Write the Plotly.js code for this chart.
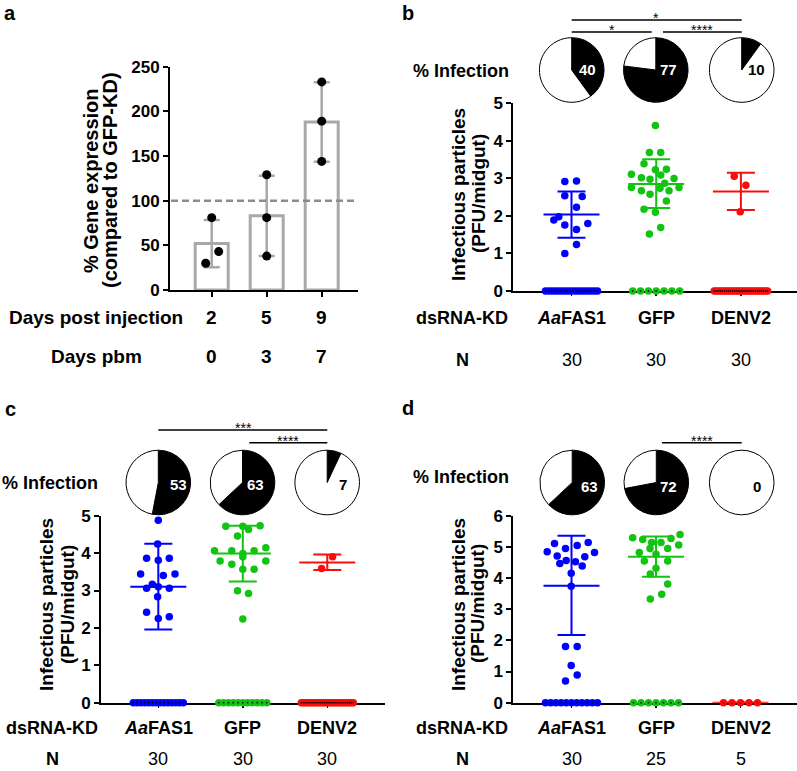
<!DOCTYPE html>
<html><head><meta charset="utf-8">
<script src="https://cdn.plot.ly/plotly-3.0.1.min.js"></script>
<style>html,body{margin:0;padding:0;background:#fff}</style>
</head><body><div id="chart" style="width:797px;height:771px"></div>
<script>
// ================= DATA =================
// Panel a
const aDays = ['2', '5', '9'];
const aPbm = ['0', '3', '7'];
const aMeans = [52, 83, 188];
const aSD = [26.5, 45, 44.5];
const aPts2 = [81, 43, 30];
const aPts5 = [129, 81, 38];
const aPts9 = [233, 189, 144];
const aReference = 100;

// Panels b-d categories
const kdCategories = ['<i>Aa</i>FAS1', 'GFP', 'DENV2'];

// Panel b values
const bFAS = [2.92, 2.93, 2.54, 2.52, 2.23, 1.89, 1.98, 1.76, 1.80, 1.64, 1.24, 1.00,
  0, 0, 0, 0, 0, 0, 0, 0, 0, 0, 0, 0, 0, 0, 0, 0, 0, 0];
const bGFP = [4.41, 3.69, 3.69, 3.39, 3.23, 3.24, 3.11, 3.09, 3.02, 2.98, 3.00, 2.87,
  2.76, 2.67, 2.58, 2.74, 2.67, 2.76, 2.40, 2.18, 2.10, 1.69, 1.52,
  0, 0, 0, 0, 0, 0, 0];
const bDENV = [3.06, 2.82, 2.11,
  0, 0, 0, 0, 0, 0, 0, 0, 0, 0, 0, 0, 0, 0, 0, 0, 0, 0, 0, 0, 0, 0, 0, 0, 0, 0, 0];
const bMean = [2.04, 2.85, 2.65];
const bLow = [1.42, 2.21, 2.16];
const bHigh = [2.65, 3.51, 3.15];
const bInfection = [40, 77, 10];
const bN = ['30', '30', '30'];

// Panel c
const cFAS = [4.88, 4.24, 3.86, 3.81, 3.86, 3.44, 3.40, 3.44, 3.17, 3.06, 3.06, 3.10, 2.83, 2.42, 2.25, 2.30,
  0, 0, 0, 0, 0, 0, 0, 0, 0, 0, 0, 0, 0, 0];
const cGFP = [4.72, 4.73, 4.63, 4.46, 4.06, 4.06, 4.06, 4.14, 3.90, 3.79, 3.70, 3.79, 3.57, 3.57, 2.99, 2.92, 2.24, 4.72, 3.99,
  0, 0, 0, 0, 0, 0, 0, 0, 0, 0, 0];
const cDENV = [3.90, 3.59,
  0, 0, 0, 0, 0, 0, 0, 0, 0, 0, 0, 0, 0, 0, 0, 0, 0, 0, 0, 0, 0, 0, 0, 0, 0, 0, 0, 0];
const cMean = [3.10, 3.99, 3.75];
const cLow = [1.96, 3.24, 3.55];
const cHigh = [4.25, 4.73, 3.96];
const cInfection = [53, 63, 7];
const cN = ['30', '30', '30'];

// Panel d
const dFAS = [5.11, 5.14, 4.95, 5.04, 4.84, 4.82, 4.71, 4.68, 4.56, 4.52, 4.47, 4.39, 4.15, 3.74, 1.80, 1.80, 1.19, 0.89, 0.70,
  0, 0, 0, 0, 0, 0, 0, 0, 0, 0, 0];
const dGFP = [5.29, 5.24, 5.40, 5.27, 5.14, 5.14, 5.06, 4.82, 4.95, 4.95, 4.76, 4.55, 4.55, 4.31, 4.13, 3.81, 3.48, 3.33,
  0, 0, 0, 0, 0, 0, 0];
const dDENV = [0, 0, 0, 0, 0];
const dMean = [3.75, 4.68, 0];
const dLow = [2.17, 4.04, 0];
const dHigh = [5.36, 5.33, 0];
const dInfection = [63, 72, 0];
const dN = ['30', '25', '5'];

// ================= POSITIONS (jitter of non-zero points, px) =================
const aJit = [[0, 7, -6], [0, 0, 0], [0, 0, 0]];
const bJit = [
  [-6.7, 5, -6.7, 10.7, 5, -17.7, -12.7, -6.7, 16.3, 5, 5, -6.7],
  [-0.8, -6.8, 4.5, -12.2, -0.8, 10.2, -24.8, 4.5, -14.8, -6.2, 17.8, 8.5, -24.8, -14.8, -6.2, 3.8, 12.8, 22.8, 10.2, -12.2, -0.8, 4.5, -6.8],
  [-6.7, 5, -0.7]];
const cJit = [
  [0, -0.7, -11.7, 0, 11, -17.7, 5, 16.7, -6, -11.7, 11, 0, -0.7, -11.7, 0, 11],
  [-17, 17.3, 5.7, -5.3, -28.3, -11, 11.3, 23, 0, -22.7, -11, 23, 0, 11.3, -5.3, 5.7, 0, 0, 0],
  [5.3, -5.7]];
const dJit = [
  [-17, 16.7, -6, 5.7, -24.3, 23, -14.3, 13.3, -5.3, 4, -11.7, 10.7, -0.3, -0.3, -6, 5.7, -0.3, 5.7, -6],
  [-23.3, -13.3, 24, 15, -4.3, 5, 22.7, -16.7, -6, 11.7, 0, -11.7, 11.7, 0, -5.7, 11.7, 5.7, -5.7],
  []];

// ================= BUILD =================
const W = 797, H = 771;
const px = x => x / W;
const py = y => 1 - y / H;
const FONT = 'Liberation Sans, Arial, Helvetica, sans-serif';
const COLORS = ['rgb(0,0,255)', 'rgb(18,196,18)', 'rgb(250,12,12)'];
const traces = [];
const annotations = [];
const shapes = [];

function ann(text, x, y, size, opts) {
  annotations.push(Object.assign({
    text: text, x: px(x), y: py(y), xref: 'paper', yref: 'paper', showarrow: false,
    xanchor: 'center', yanchor: 'middle',
    font: {family: FONT, size: size, color: 'black'}
  }, opts || {}));
}

// ---- Panel a ----
traces.push({
  type: 'bar', x: [0, 1, 2], y: aMeans, width: 0.6, xaxis: 'x', yaxis: 'y',
  marker: {color: 'white', line: {color: '#a8a8a8', width: 3}},
  error_y: {type: 'data', array: aSD, visible: true, color: '#a8a8a8', thickness: 2.5, width: 8},
  hoverinfo: 'skip'
});
[aPts2, aPts5, aPts9].forEach((pts, i) => {
  traces.push({
    type: 'scatter', mode: 'markers', xaxis: 'x', yaxis: 'y', cliponaxis: false,
    x: pts.map((v, k) => i + aJit[i][k] / 55), y: pts,
    marker: {color: 'black', size: 9}, hoverinfo: 'skip'
  });
});
shapes.push({type: 'line', xref: 'paper', yref: 'y', x0: px(171), x1: px(357), y0: aReference, y1: aReference,
  line: {color: '#8c8c8c', width: 2.5, dash: '7px,4px'}});
aDays.forEach((t, i) => ann('<b>' + t + '</b>', 211.7 + 55 * i, 317, 19));
aPbm.forEach((t, i) => ann('<b>' + t + '</b>', 211.7 + 55 * i, 356, 19));
ann('<b>Days post injection</b>', 96, 317, 19);
ann('<b>Days pbm</b>', 96, 356, 19);
ann('<b>% Gene expression</b>', 91, 181, 20, {textangle: -90});
ann('<b>(compared to GFP-KD)</b>', 110, 180, 20, {textangle: -90});

// ---- Panels b, c, d ----
const panels = [
  {xa: 'x2', ya: 'y2', x0: 571.5, dx: 84.7, vals: [bFAS, bGFP, bDENV], jit: bJit, zHalf: [26, 23.5, 26.7],
   mean: bMean, lo: bLow, hi: bHigh, inf: bInfection, N: bN,
   pies: [[571.7, 70], [655.8, 70], [741.7, 70]], pieOff: [16, 12.6, 15], pieTextY: 69,
   infX: 461, infY: 71, titleX: [458, 478], titleY: 194, rowY: [318, 360], rowX: 462},
  {xa: 'x3', ya: 'y3', x0: 158.3, dx: 84.5, vals: [cFAS, cGFP, cDENV], jit: cJit, zHalf: [25, 24, 26],
   mean: cMean, lo: cLow, hi: cHigh, inf: cInfection, N: cN,
   pies: [[158.3, 482.5], [242.5, 482.5], [327.2, 482.5]], pieOff: [20, 12.5, 15.5], pieTextY: 484,
   infX: 50, infY: 483, titleX: [46, 67], titleY: 605, rowY: [728, 759], rowX: 52},
  {xa: 'x4', ya: 'y4', x0: 571.5, dx: 84.5, vals: [dFAS, dGFP, dDENV], jit: dJit, zHalf: [26, 22.5, 17],
   mean: dMean, lo: dLow, hi: dHigh, inf: dInfection, N: dN,
   pies: [[572.2, 482.5], [656.3, 482.5], [741.7, 482.5]], pieOff: [17.3, 12.6, 15], pieTextY: 486,
   infX: 461, infY: 477, titleX: [458, 477], titleY: 604, rowY: [728, 759], rowX: 462}
];

panels.forEach(p => {
  p.vals.forEach((vals, i) => {
    const col = COLORS[i];
    const nz = vals.filter(v => v > 0);
    const nZero = vals.length - nz.length;
    const zx = [];
    for (let k = 0; k < nZero; k++) {
      const off = nZero > 1 ? -p.zHalf[i] + 2 * p.zHalf[i] * k / (nZero - 1) : 0;
      zx.push(i + off / p.dx);
    }
    traces.push({type: 'scatter', mode: 'markers', xaxis: p.xa, yaxis: p.ya, cliponaxis: false,
      x: nz.map((v, k) => i + p.jit[i][k] / p.dx), y: nz,
      marker: {color: col, size: 7.5}, hoverinfo: 'skip'});
    traces.push({type: 'scatter', mode: 'markers', xaxis: p.xa, yaxis: p.ya, cliponaxis: false,
      x: zx, y: zx.map(() => 0), marker: {color: col, size: 7.5}, hoverinfo: 'skip'});
    traces.push({type: 'scatter', mode: 'markers', xaxis: p.xa, yaxis: p.ya, cliponaxis: false,
      x: zx, y: zx.map(() => 0), marker: {color: 'rgba(0,0,0,0.8)', size: 1.8}, hoverinfo: 'skip'});
    const hm = 28 / p.dx, hc = 14 / p.dx;
    const m = p.mean[i], l = p.lo[i], h = p.hi[i];
    traces.push({type: 'scatter', mode: 'lines', xaxis: p.xa, yaxis: p.ya, cliponaxis: false,
      x: [i - hm, i + hm, null, i, i, null, i - hc, i + hc, null, i - hc, i + hc],
      y: [m, m, null, l, h, null, l, l, null, h, h],
      line: {color: col, width: 2}, hoverinfo: 'skip'});
  });
  p.inf.forEach((v, i) => {
    const [cx, cy] = p.pies[i];
    const r = 32.3;
    traces.push({type: 'pie', values: [v, 100 - v], sort: false, direction: 'clockwise', rotation: 0,
      marker: {colors: ['black', 'white'], line: {color: 'black', width: 1}},
      textinfo: 'none', hoverinfo: 'skip', showlegend: false,
      domain: {x: [px(cx - r), px(cx + r)], y: [py(cy + r), py(cy - r)]}});
    ann('<b>' + v + '</b>', cx + p.pieOff[i], p.pieTextY, 15,
      {font: {family: FONT, size: 15, color: v >= 40 ? 'white' : 'black'}});
  });
  ann('<b>% Infection</b>', p.infX, p.infY, 18);
  ann('<b>Infectious particles</b>', p.titleX[0], p.titleY, 19, {textangle: -90});
  ann('<b>(PFU/midgut)</b>', p.titleX[1], p.titleY, 19, {textangle: -90});
  ann('<b>dsRNA-KD</b>', p.rowX, p.rowY[0], 18);
  ann('<b>N</b>', p.rowX, p.rowY[1], 18);
  kdCategories.forEach((t, i) => {
    ann('<b>' + t + '</b>', 0, p.rowY[0], 18, {x: i, xref: p.xa});
    ann(p.N[i], 0, p.rowY[1], 18, {x: i, xref: p.xa});
  });
});

function sig(x0, x1, y, stars, sx, sy) {
  shapes.push({type: 'line', xref: 'paper', yref: 'paper', x0: px(x0), x1: px(x1), y0: py(y), y1: py(y),
    line: {color: 'black', width: 1.5}});
  ann(stars, sx, sy, 14);
}
sig(571.7, 741.7, 20, '*', 656, 18);
sig(571.7, 651.7, 32, '*', 611.7, 30);
sig(663, 741.7, 32, '****', 702, 30);
sig(158.3, 327.3, 430, '***', 243, 428);
sig(249.3, 327.3, 442.7, '****', 288.3, 440.7);
sig(662, 741.7, 442.7, '****', 702, 440.7);

ann('<b>a</b>', 10, 13, 20);
ann('<b>b</b>', 408, 13, 20);
ann('<b>c</b>', 10, 409, 20);
ann('<b>d</b>', 408, 408, 20);

function yax(dom, range, dtick, anchor) {
  return {domain: dom, range: range, dtick: dtick, tick0: 0, anchor: anchor,
    showgrid: false, zeroline: false, showline: true, linecolor: 'black', linewidth: 2,
    ticks: 'outside', ticklen: 5, tickwidth: 2, tickcolor: 'black',
    tickfont: {family: FONT, size: 17, color: 'black', weight: 'bold'}, fixedrange: true, layer: 'below traces'};
}
function xax(dom, range, anchor, tlen, tw, layer) {
  return {domain: dom, range: range, anchor: anchor, tickvals: [0, 1, 2], showticklabels: false,
    showgrid: false, zeroline: false, showline: true, linecolor: 'black', linewidth: 2,
    ticks: 'outside', ticklen: tlen, tickwidth: tw, tickcolor: 'black', fixedrange: true, layer: layer};
}

const layout = {
  width: W, height: H, margin: {l: 0, r: 0, t: 0, b: 0}, showlegend: false,
  paper_bgcolor: 'white', plot_bgcolor: 'rgba(0,0,0,0)',
  font: {family: FONT, color: 'black'},
  xaxis: xax([px(170), px(358)], [(170 - 211.7) / 55, (358 - 211.7) / 55], 'y', 5, 2, 'above traces'),
  yaxis: yax([py(290), py(66.7)], [0, 250], 50, 'x'),
  xaxis2: xax([px(513.3), 1], [(513.3 - 571.5) / 84.7, (797 - 571.5) / 84.7], 'y2', 3, 1.5, 'below traces'),
  yaxis2: yax([py(291), py(103.3)], [0, 5], 1, 'x2'),
  xaxis3: xax([px(101), px(385)], [(101 - 158.3) / 84.5, (385 - 158.3) / 84.5], 'y3', 3, 1.5, 'below traces'),
  yaxis3: yax([py(702.7), py(515.7)], [0, 5], 1, 'x3'),
  xaxis4: xax([px(513.3), 1], [(513.3 - 571.5) / 84.5, (797 - 571.5) / 84.5], 'y4', 3, 1.5, 'below traces'),
  yaxis4: yax([py(702.7), py(515.7)], [0, 6], 1, 'x4'),
  annotations: annotations, shapes: shapes
};

Plotly.newPlot('chart', traces, layout, {staticPlot: true, displayModeBar: false});
</script></body></html>
